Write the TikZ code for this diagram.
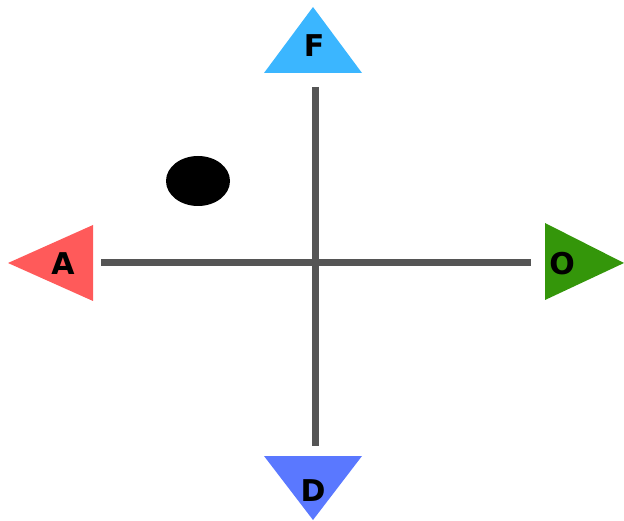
\documentclass[tikz,border=0pt]{standalone}
\usepackage{fontspec}
\setsansfont{DejaVu Sans}
\usetikzlibrary{positioning,shapes.geometric}
\definecolor{axisgray}{RGB}{85,85,85}
\definecolor{fblue}{RGB}{59,182,255}
\definecolor{ared}{RGB}{255,90,90}
\definecolor{ogreen}{RGB}{52,150,10}
\definecolor{dblue}{RGB}{90,120,255}

\begin{document}
\begin{tikzpicture}[x=1pt,y=-1pt,font=\sffamily\bfseries\fontsize{30}{30}\selectfont]
\useasboundingbox (0,0) rectangle (624,521);
\tikzset{axis/.style={draw=axisgray,line width=7pt},lbl/.style={inner sep=0pt}}
% triangles
\fill[fblue] (313,7) -- (362,73) -- (264,73) -- cycle;
\fill[ared] (8,263) -- (93,225) -- (93,301) -- cycle;
\fill[ogreen] (624,263) -- (545,223) -- (545,300) -- cycle;
\fill[dblue] (313,520) -- (362,456) -- (264,456) -- cycle;
\node[lbl] (f) at (314,46) {F};
\node[lbl] (a) at (63,264) {A};
\node[lbl] (o) at (562,264) {O};
\node[lbl] (d) at (313,491) {D};
% axes
\coordinate (top) at (315,87);
\coordinate (bot) at (315,446);
\coordinate (left) at (101,263);
\coordinate (right) at (531,263);
\draw[axis] (top) -- (bot);
\draw[axis] (left) -- (right);
% point
\node[fill=black,ellipse,minimum width=64pt,minimum height=50pt,inner sep=0pt] (pt) at (198,181) {};
\end{tikzpicture}
\end{document}
